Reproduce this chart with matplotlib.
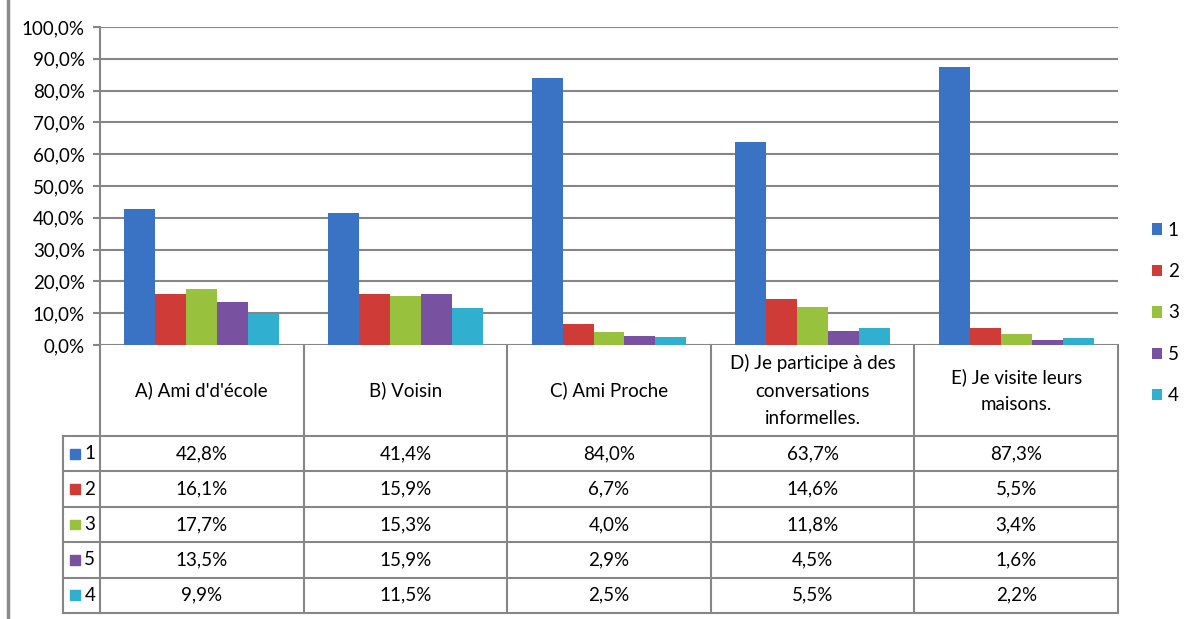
import matplotlib.pyplot as plt
from matplotlib.patches import Rectangle
from matplotlib.lines import Line2D

# Data
categories = ["A) Ami d'd'école", "B) Voisin", "C) Ami Proche",
              "D) Je participe à des\nconversations\ninformelles.",
              "E) Je visite leurs\nmaisons."]
series_names = ["1", "2", "3", "5", "4"]
s1 = [42.8, 41.4, 84.0, 63.7, 87.3]
s2 = [16.1, 15.9, 6.7, 14.6, 5.5]
s3 = [17.7, 15.3, 4.0, 11.8, 3.4]
s5 = [13.5, 15.9, 2.9, 4.5, 1.6]
s4 = [9.9, 11.5, 2.5, 5.5, 2.2]
series_values = [s1, s2, s3, s5, s4]
colors = ["#3b73c4", "#cf3b37", "#98c13e", "#7851a0", "#31afcf"]
y_ticks = [0, 10, 20, 30, 40, 50, 60, 70, 80, 90, 100]

GRID = "#868686"
W, H = 1192, 619
FS = 13.5

plt.rcParams['font.family'] = ['Lato', 'DejaVu Sans']
fig = plt.figure(figsize=(W / 100, H / 100), dpi=100)


def px(x0, y0, x1, y1):
    """Pixel box (top-left origin) -> figure rect"""
    return [x0 / W, 1 - y1 / H, (x1 - x0) / W, (y1 - y0) / H]


def fmt(v):
    return f"{v:.1f}%".replace('.', ',')


# ---- bar chart ----
ax = fig.add_axes(px(100, 27, 1118, 345))
n = len(series_names)
bw = 0.152
handles = []
for i, (name, vals, c) in enumerate(zip(series_names, series_values, colors)):
    xs = [k + 0.5 + (i - (n - 1) / 2) * bw for k in range(len(categories))]
    b = ax.bar(xs, vals, bw, color=c, label=name, zorder=3)
    handles.append(b)

ax.set_xlim(0, len(categories))
ax.set_ylim(0, 100)
ax.set_yticks(y_ticks)
ax.set_yticklabels([fmt(v) for v in y_ticks], fontsize=FS)
ax.set_xticks([])
ax.yaxis.grid(True, color=GRID, lw=1.5, zorder=0)
ax.tick_params(axis='y', length=5, color=GRID, width=1.5, pad=6)
for s in ['top', 'right', 'bottom']:
    ax.spines[s].set_visible(False)
ax.spines['left'].set_color(GRID)
ax.spines['left'].set_linewidth(1.5)

# ---- data table below ----
col_w = (1118 - 100) / len(categories)
leg_w = (100 - 63) / col_w
hdr = 91 / 35.4
nrows = len(series_names)
bottom = hdr + nrows

tab = fig.add_axes(px(63, 345, 1118, 613))
tab.set_xlim(-leg_w, len(categories))
tab.set_ylim(bottom, 0)
tab.axis('off')

lk = dict(color=GRID, lw=1.5, clip_on=False)
for k in range(len(categories) + 1):
    tab.plot([k, k], [0, bottom], **lk)
tab.plot([-leg_w, -leg_w], [hdr, bottom], **lk)
for r in range(nrows + 1):
    tab.plot([-leg_w, len(categories)], [hdr + r, hdr + r], **lk)

for k, cat in enumerate(categories):
    tab.text(k + 0.5, hdr / 2, cat, ha='center', va='center', fontsize=FS,
             linespacing=1.75)

for r, (name, vals, c) in enumerate(zip(series_names, series_values, colors)):
    y = hdr + r + 0.5
    tab.add_patch(Rectangle((-leg_w + 0.035, y - 0.14), 0.05, 0.28,
                            color=c, clip_on=False))
    tab.text(-leg_w + 0.105, y, name, ha='left', va='center', fontsize=FS)
    for k, v in enumerate(vals):
        tab.text(k + 0.5, y, fmt(v), ha='center', va='center', fontsize=FS)

# ---- legend on the right ----
fig.legend(handles, series_names, loc='center left',
           bbox_to_anchor=(1135 / W, 1 - 313 / H), frameon=False,
           handlelength=0.55, handleheight=0.55, handletextpad=0.3,
           labelspacing=1.3, fontsize=FS)

# left border line
fig.add_artist(Line2D([8 / W, 8 / W], [0, 1], color='#8a8a8a', lw=2.5))

fig.savefig('out.png', dpi=100)
